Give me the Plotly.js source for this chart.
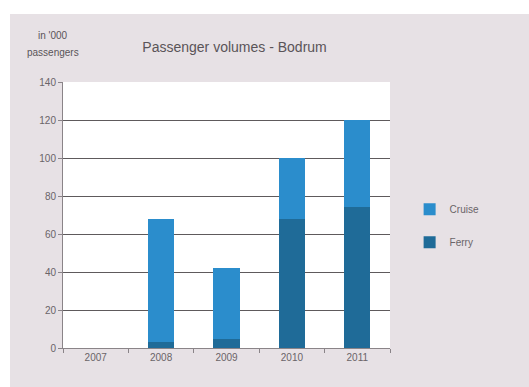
<!DOCTYPE html>
<html>
<head>
<meta charset="utf-8">
<script src="https://cdn.plot.ly/plotly-3.0.1.min.js"></script>
<style>
html,body{margin:0;padding:0;background:#ffffff;width:529px;height:387px;overflow:hidden;}
#chart{position:absolute;left:10px;top:14px;width:519px;height:373px;}
</style>
</head>
<body>
<div id="chart"></div>
<script>
const years = ['2007', '2008', '2009', '2010', '2011'];
const ferry = [0, 3, 5, 68, 74];
const cruise = [0, 65, 37, 32, 46];
const yTicks = [0, 20, 40, 60, 80, 100, 120, 140];

const textColor = '#6a6468';
const traces = [
  {type: 'bar', name: 'Ferry', x: years, y: ferry, marker: {color: '#1f6b98'}, legendgroup: 'f', legendrank: 2},
  {type: 'bar', name: 'Cruise', x: years, y: cruise, marker: {color: '#2b8dcc'}, legendgroup: 'c', legendrank: 1}
];

const layout = {
  width: 519, height: 373,
  paper_bgcolor: '#e7e1e5',
  plot_bgcolor: '#ffffff',
  barmode: 'stack',
  bargap: 0.6,
  font: {family: 'Liberation Sans, Arial, sans-serif', size: 10, color: textColor},
  margin: {l: 53, r: 139, t: 68, b: 39},
  title: {text: 'Passenger volumes - Bodrum', font: {size: 14, color: '#5a5458'}, x: 0.255, xanchor: 'left', y: 0.91, yanchor: 'middle'},
  xaxis: {
    type: 'category',
    showline: true, linecolor: '#8a8488', linewidth: 1,
    ticks: 'outside', ticklen: 4, tickcolor: '#8a8488', tickson: 'boundaries',
    showgrid: false,
    tickfont: {size: 10, color: textColor}
  },
  yaxis: {
    range: [0, 140],
    tickvals: yTicks,
    showline: true, linecolor: '#8a8488', linewidth: 1,
    ticks: 'outside', ticklen: 4, tickcolor: '#8a8488',
    showgrid: true, gridcolor: '#5e5a5c', gridwidth: 1,
    zeroline: false,
    tickfont: {size: 10, color: textColor}
  },
  legend: {
    x: 1.06, xanchor: 'left', y: 0.46, yanchor: 'middle',
    traceorder: 'grouped', tracegroupgap: 14,
    bgcolor: 'rgba(0,0,0,0)',
    font: {size: 10, color: textColor},
    itemwidth: 30
  },
  showlegend: true,
  annotations: [
    {text: "in '000", xref: 'paper', yref: 'paper', x: -0.03, y: 1.175, xanchor: 'center', yanchor: 'middle', showarrow: false, font: {size: 10, color: '#5a5458'}},
    {text: 'passengers', xref: 'paper', yref: 'paper', x: -0.03, y: 1.11, xanchor: 'center', yanchor: 'middle', showarrow: false, font: {size: 10, color: '#5a5458'}}
  ]
};

Plotly.newPlot('chart', traces, layout, {displayModeBar: false, staticPlot: true});
</script>
</body>
</html>
